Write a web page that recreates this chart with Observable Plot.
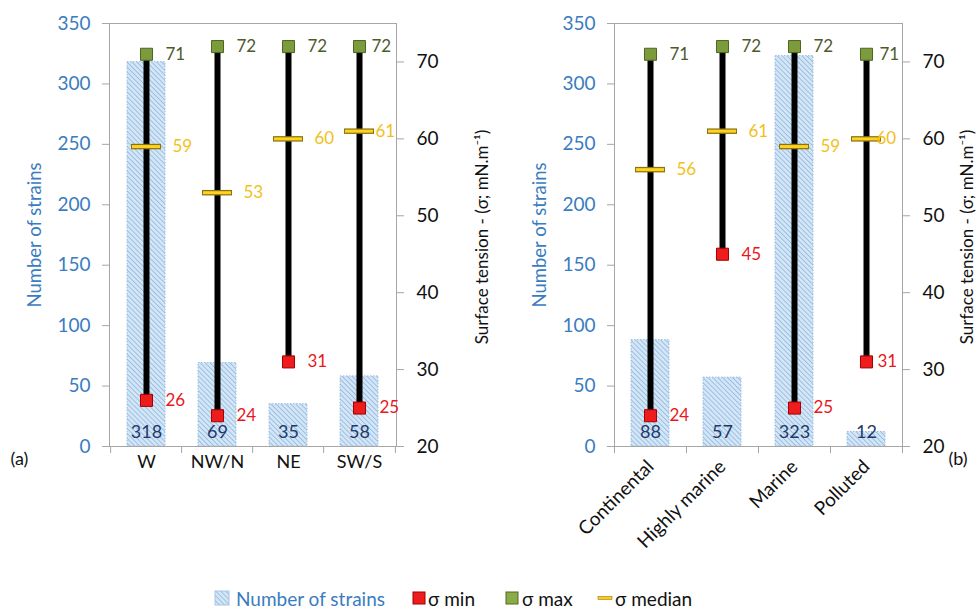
<!DOCTYPE html>
<html>
<head>
<meta charset="utf-8">
<script src="https://cdn.jsdelivr.net/npm/d3@7"></script>
<script src="https://cdn.jsdelivr.net/npm/@observablehq/plot@0.6"></script>
<style>
  body { margin: 0; background: #fff; font-family: Lato, "Open Sans", sans-serif; }
  #wrap { position: relative; width: 978px; height: 610px; overflow: hidden; background: #fff; }
  #a { position: absolute; left: 0; top: 0; }
  #b { position: absolute; left: 488px; top: 0; }
  .lg { position: absolute; top: 586px; height: 24px; display: flex; align-items: center; font-size: 19px; white-space: nowrap; color: #111; }
</style>
</head>
<body>
<svg width="0" height="0" style="position:absolute">
  <defs>
    <pattern id="hatch" width="3.5" height="3.5" patternUnits="userSpaceOnUse" patternTransform="rotate(-45)">
      <rect width="3.5" height="3.5" fill="#d2e6f7"></rect>
      <line x1="0" y1="0" x2="0" y2="3.5" stroke="#7fa7d2" stroke-width="1.2"></line>
    </pattern>
  </defs>
</svg>
<div id="wrap">
  <div id="a"></div>
  <div id="b"></div>
  <div class="lg" style="left:214px"><svg width="16" height="16"><rect x="1" y="1" width="14" height="14" fill="url(#hatch)" stroke="#a8c6e4"></rect></svg></div>
  <div class="lg" style="left:236px;color:#3a7cc0">Number of strains</div>
  <div class="lg" style="left:412px"><svg width="14" height="14"><rect x="1" y="1" width="12" height="12" fill="#ee1c1c" stroke="#a00000"></rect></svg></div>
  <div class="lg" style="left:428px">σ min</div>
  <div class="lg" style="left:505px"><svg width="14" height="14"><rect x="1" y="1" width="12" height="12" fill="#8aab48" stroke="#506a24"></rect></svg></div>
  <div class="lg" style="left:522px">σ max</div>
  <div class="lg" style="left:597px"><svg width="16" height="14"><rect x="1" y="5.5" width="14" height="3" fill="#ffc81e" stroke="#9a7d10" stroke-width="0.6"></rect></svg></div>
  <div class="lg" style="left:615px">σ median</div>
</div>
<script>
// ---- data ----
const regions = ["W", "NW/N", "NE", "SW/S"];
const regionStrains = [318, 69, 35, 58];
const regionMin = [26, 24, 31, 25];
const regionMax = [71, 72, 72, 72];
const regionMedian = [59, 53, 60, 61];

const airMasses = ["Continental", "Highly marine", "Marine", "Polluted"];
const airStrains = [88, 57, 323, 12];
const airMin = [24, 45, 25, 31];
const airMax = [71, 72, 72, 71];
const airMedian = [56, 61, 59, 60];

const countTicks = [0, 50, 100, 150, 200, 250, 300, 350];
const tensionTicks = [20, 30, 40, 50, 60, 70];

// ---- styles ----
const gray = "#a6a6a6";
const blue = "#3a7cc0";
// surface tension (20..75) mapped onto the strains axis (0..350)
const sig = d3.scaleLinear([20, 75], [0, 350]);

function panel(o) {
  const data = o.cats.map((c, i) => ({
    c, n: o.strains[i], lo: o.mins[i], hi: o.maxs[i], md: o.meds[i], last: i === o.cats.length - 1
  }));
  const plotW = 490 - o.marginLeft - o.marginRight;
  const step = plotW / o.cats.length;
  const notLast = d => !d.last, isLast = d => d.last;
  return Plot.plot({
    width: 490,
    height: 575,
    marginTop: 23,
    marginBottom: 129,
    marginLeft: o.marginLeft,
    marginRight: o.marginRight,
    style: { fontFamily: "Lato, 'Open Sans', sans-serif", background: "transparent", overflow: "visible" },
    x: { domain: o.cats, paddingInner: 0.47, paddingOuter: 0.235 },
    y: { domain: [0, 350] },
    marks: [
      Plot.barY(data, { x: "c", y: "n", fill: "url(#hatch)", stroke: "#9bbde0", strokeWidth: 1, strokeDasharray: "1.5,1.5" }),
      Plot.frame({ stroke: gray }),
      Plot.axisX({ tickSize: 7, dx: -step / 2, fill: "none", stroke: gray, label: null }),
      Plot.axisX([o.cats[o.cats.length - 1]], { tickSize: 7, dx: step / 2, fill: "none", stroke: gray, label: null }),
      o.rotate
        ? Plot.axisX({ tickSize: 0, tickPadding: 17, tickRotate: -45, fontSize: 19, fill: "#111", label: null })
        : Plot.axisX({ tickSize: 0, tickPadding: 9, fontSize: 18, fill: "#111", label: null }),
      Plot.axisY(countTicks, { anchor: "left", tickSize: 7, tickPadding: 12, stroke: gray, fill: blue, fontSize: 19, label: null }),
      Plot.axisY(tensionTicks.map(sig), { anchor: "right", tickSize: 7, tickPadding: 13, tickFormat: d => Math.round(sig.invert(d)), stroke: gray, fill: "#111", fontSize: 19, label: null }),
      Plot.ruleX(data, { x: "c", y1: d => sig(d.lo), y2: d => sig(d.hi), stroke: "#000", strokeWidth: 6 }),
      Plot.tickY(data, { x: "c", y: d => sig(d.md), stroke: "#8a7412", strokeWidth: 5.5, insetLeft: 4, insetRight: 4 }),
      Plot.tickY(data, { x: "c", y: d => sig(d.md), stroke: "#ffd21f", strokeWidth: 3, insetLeft: 5, insetRight: 5 }),
      Plot.dot(data, { x: "c", y: d => sig(d.lo), symbol: "square", r: 6.8, fill: "#ee1c1c", stroke: "#a00000", strokeWidth: 1 }),
      Plot.dot(data, { x: "c", y: d => sig(d.hi), symbol: "square", r: 6.8, fill: "#7b9b3c", stroke: "#4d6522", strokeWidth: 1 }),
      // value labels
      Plot.text(data, { filter: notLast, x: "c", y: d => sig(d.hi), text: d => String(d.hi), dx: 19, textAnchor: "start", fill: "#4e5a2c", fontSize: 17 }),
      Plot.text(data, { filter: isLast, x: "c", y: d => sig(d.hi), text: d => String(d.hi), dx: o.lastDx[0], textAnchor: "start", fill: "#4e5a2c", fontSize: 17 }),
      Plot.text(data, { filter: notLast, x: "c", y: d => sig(d.md), text: d => String(d.md), dx: 26, textAnchor: "start", fill: "#f2bf1a", fontSize: 17 }),
      Plot.text(data, { filter: isLast, x: "c", y: d => sig(d.md), text: d => String(d.md), dx: o.lastDx[1], textAnchor: "start", fill: "#f2bf1a", fontSize: 17 }),
      Plot.text(data, { filter: notLast, x: "c", y: d => sig(d.lo), text: d => String(d.lo), dx: 19, textAnchor: "start", fill: "#e8181c", fontSize: 17 }),
      Plot.text(data, { filter: isLast, x: "c", y: d => sig(d.lo), text: d => String(d.lo), dx: o.lastDx[2], textAnchor: "start", fill: "#e8181c", fontSize: 17 }),
      Plot.text(data, { x: "c", y: 0, dy: -14, text: d => String(d.n), fill: "#1f3a6a", fontSize: 18 }),
      // titles
      Plot.text(["Number of strains"], { text: d => d, frameAnchor: "left", textAnchor: "middle", dx: -74, rotate: -90, fill: blue, fontSize: 18.5 }),
      Plot.text(["Surface tension - (σ; mN.m⁻¹)"], { text: d => d, frameAnchor: "right", textAnchor: "middle", dx: o.rightTitleDx, dy: 2, rotate: -90, fill: "#111", fontSize: 17 }),
      Plot.text([o.tag], { text: d => d, frameAnchor: o.tagAnchor, dx: o.tagDx, dy: 18, textAnchor: "start", fill: "#111", fontSize: 18 })
    ]
  });
}

document.getElementById("a").append(panel({
  cats: regions, strains: regionStrains, mins: regionMin, maxs: regionMax, meds: regionMedian,
  marginLeft: 109, marginRight: 94, rotate: false, rightTitleDx: 86,
  tag: "(a)", tagAnchor: "bottom-left", tagDx: -99, lastDx: [12, 16, 20]
}));
document.getElementById("b").append(panel({
  cats: airMasses, strains: airStrains, mins: airMin, maxs: airMax, meds: airMedian,
  marginLeft: 126, marginRight: 76, rotate: true, rightTitleDx: 65,
  tag: "(b)", tagAnchor: "bottom-right", tagDx: 46, lastDx: [13, 10, 11]
}));
</script>
</body>
</html>
